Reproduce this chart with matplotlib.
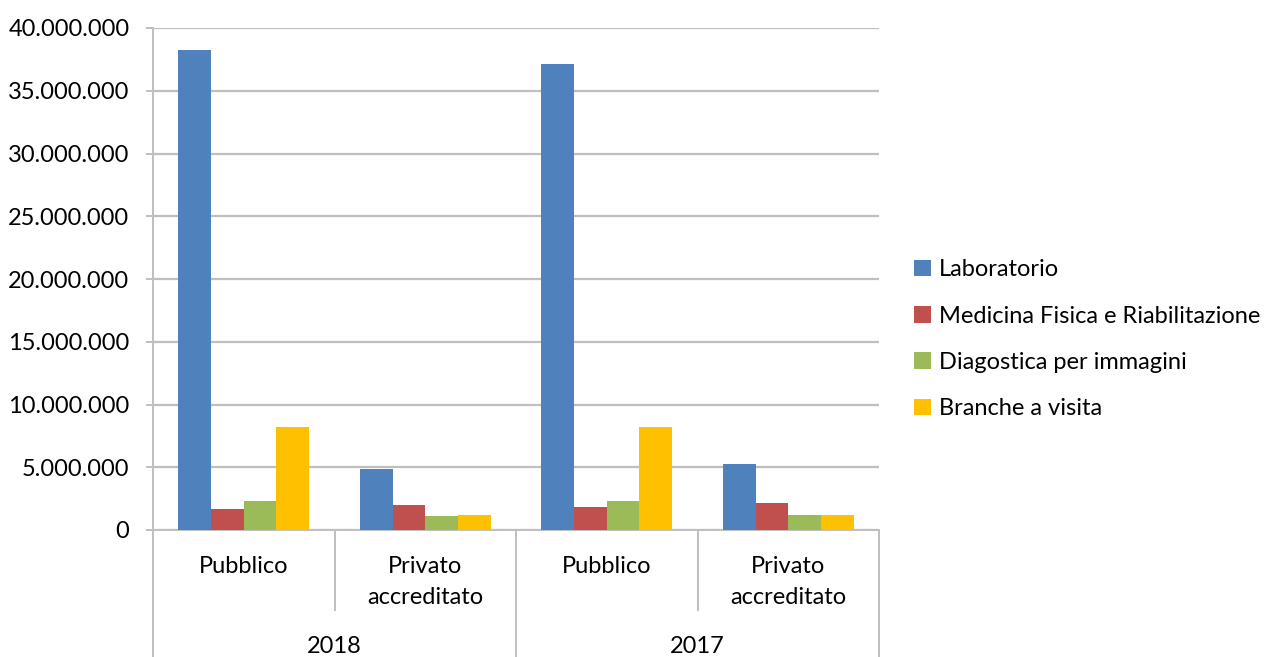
import matplotlib
matplotlib.use("Agg")
import matplotlib.pyplot as plt
import numpy as np
from matplotlib.ticker import FuncFormatter, MultipleLocator

categories = ["Pubblico", "Privato\naccreditato", "Pubblico", "Privato\naccreditato"]
years = ["2018", "2017"]
series_names = ["Laboratorio", "Medicina Fisica e Riabilitazione",
                "Diagostica per immagini", "Branche a visita"]
laboratorio = [38250000, 4850000, 37100000, 5230000]
medicina = [1680000, 2000000, 1830000, 2120000]
diagnostica = [2300000, 1090000, 2300000, 1170000]
branche = [8180000, 1190000, 8180000, 1190000]
colors = ["#4F81BD", "#C0504D", "#9BBB59", "#FFC000"]

plt.rcParams['font.family'] = ['Lato', 'DejaVu Sans']
FS = 17
W, H = 1272, 657
fig = plt.figure(figsize=(W / 100, H / 100), dpi=100)
ax_l, ax_r, ax_b, ax_t = 153, 879, 530, 28
ax = fig.add_axes([ax_l / W, 1 - ax_b / H, (ax_r - ax_l) / W, (ax_b - ax_t) / H])

data = [laboratorio, medicina, diagnostica, branche]
x = np.arange(len(categories))
bw = 0.18
for i, (vals, name, c) in enumerate(zip(data, series_names, colors)):
    ax.bar(x + (i - 1.5) * bw, vals, bw, color=c, label=name, zorder=3)

ax.set_xlim(-0.5, len(categories) - 0.5)
ax.set_ylim(0, 40000000)
ax.yaxis.set_major_locator(MultipleLocator(5000000))
ax.yaxis.set_major_formatter(FuncFormatter(lambda v, p: f"{int(v):,}".replace(",", ".")))
ax.grid(axis='y', color='#BFBFBF', linewidth=1.6, zorder=0)
for s in ['top', 'right']:
    ax.spines[s].set_visible(False)
for s in ['left', 'bottom']:
    ax.spines[s].set_color('#BFBFBF')
    ax.spines[s].set_linewidth(1.4)
ax.tick_params(axis='y', length=5, color='#BFBFBF', width=1.4, labelsize=FS, pad=12, labelcolor='#000000')
ax.tick_params(axis='x', length=0, labelbottom=False)

axh = ax_b - ax_t
tr = ax.get_xaxis_transform()
# category labels
for xi, lab in zip(x, categories):
    ax.text(xi, -26 / axh, lab, transform=tr, ha='center', va='top', fontsize=FS,
            linespacing=1.6)
# separators
for xs in [0.5, 2.5]:
    ax.plot([xs, xs], [0, -80 / axh], transform=tr, color='#BFBFBF', lw=1.4, clip_on=False)
for xs in [-0.5, 1.5, 3.5]:
    ax.plot([xs, xs], [0, -130 / axh], transform=tr, color='#BFBFBF', lw=1.4, clip_on=False)
# year labels
for k, yr in enumerate(years):
    ax.text(2 * k + 0.5, -106 / axh, yr, transform=tr, ha='center', va='top', fontsize=FS)

leg = fig.legend(loc='upper left', bbox_to_anchor=(893 / W, 1 - 238 / H), frameon=False,
                 fontsize=FS, handlelength=0.7, handleheight=0.7, handletextpad=0.35,
                 labelspacing=1.07)

fig.savefig("out.png", dpi=100)
